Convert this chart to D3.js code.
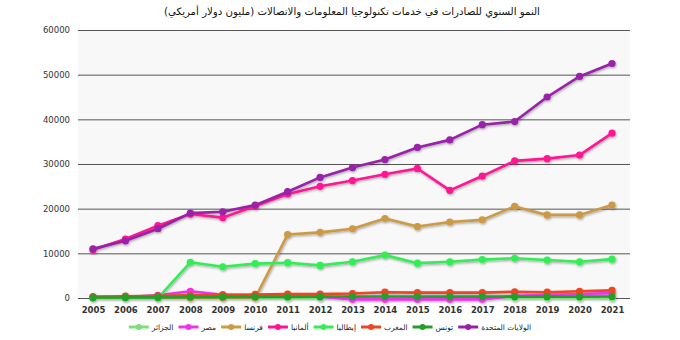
<!DOCTYPE html>
<html>
<head>
<meta charset="utf-8">
<script src="https://cdn.jsdelivr.net/npm/d3@7"></script>
<style>
  body { margin: 0; background: #fff; }
  svg text { font-family: "DejaVu Sans", "Noto Sans", sans-serif; }
</style>
</head>
<body>
<div id="chart"></div>
<script>
// السنوات
const years = [2005, 2006, 2007, 2008, 2009, 2010, 2011, 2012, 2013, 2014, 2015, 2016, 2017, 2018, 2019, 2020, 2021];
const yTicks = [0, 10000, 20000, 30000, 40000, 50000, 60000];

// القيم (مليون دولار) مقروءة من الصورة
const usa     = [11000, 12800, 15500, 19000, 19300, 20800, 23800, 27000, 29200, 31000, 33700, 35400, 38800, 39500, 45000, 49600, 52500];
const tunisia = [100, 120, 150, 200, 200, 250, 250, 300, 300, 350, 300, 300, 300, 300, 300, 300, 350];
const morocco = [300, 400, 500, 600, 700, 800, 900, 900, 1000, 1300, 1200, 1200, 1200, 1400, 1300, 1500, 1700];
const italy   = [0, 0, 0, 8000, 7000, 7700, 7900, 7300, 8100, 9600, 7800, 8100, 8600, 8900, 8500, 8100, 8700];
const germany = [10800, 13200, 16200, 18800, 18000, 20600, 23300, 25000, 26300, 27700, 29000, 24100, 27300, 30700, 31200, 32000, 36900];
const france  = [0, 0, 0, 0, 0, 0, 14200, 14700, 15500, 17800, 16000, 17000, 17500, 20500, 18600, 18600, 20800];
const egypt   = [100, 200, 600, 1500, 700, 500, 400, 300, -300, -300, -300, -300, -300, 500, 700, 900, 1100];
const algeria = [50, 50, 50, 50, 50, 50, 50, 50, 50, 50, 50, 50, 50, 50, 50, 50, 50];

const names  = ["الجزائر", "مصر", "فرنسا", "ألمانيا", "إيطاليا", "المغرب", "تونس", "الولايات المتحدة"];
const colors = ["#7ddf7d", "#ee33ee", "#cc9944", "#ff1493", "#33ee55", "#ee4422", "#22a02a", "#9920a8"];
const seriesValues = [algeria, egypt, france, germany, italy, morocco, tunisia, usa];

const title = "النمو السنوي للصادرات في خدمات تكنولوجيا المعلومات والاتصالات (مليون دولار أمريكي)";

const width = 680, height = 340;
const plotLeft = 78, plotRight = 630, plotTop = 30, plotBottom = 298;

const svg = d3.select("#chart").append("svg")
    .attr("width", width)
    .attr("height", height);

// ظل خفيف للخطوط
const defs = svg.append("defs");
const f = defs.append("filter").attr("id", "shadow")
    .attr("x", "-10%").attr("y", "-10%").attr("width", "120%").attr("height", "130%");
f.append("feDropShadow").attr("dx", 0.8).attr("dy", 1.2).attr("stdDeviation", 0.9)
    .attr("flood-color", "#000").attr("flood-opacity", 0.35);

const x = d3.scaleLinear().domain([2005, 2021]).range([93, 612]);
const y = d3.scaleLinear().domain([0, 60000]).range([plotBottom, plotTop]);

// خلفية منطقة الرسم
svg.append("rect")
    .attr("x", plotLeft).attr("y", plotTop)
    .attr("width", plotRight - plotLeft).attr("height", plotBottom - plotTop)
    .attr("fill", "#f8f8f8");

// العنوان
svg.append("text")
    .attr("x", 352).attr("y", 15)
    .attr("text-anchor", "middle")
    .attr("direction", "rtl")
    .attr("font-size", 10.2)
    .attr("fill", "#111")
    .text(title);

// خطوط الشبكة ومحور y
const yAxis = d3.axisLeft(y).tickValues(yTicks).tickFormat(d3.format("d"))
    .tickSize(-(plotRight - plotLeft)).tickPadding(8);
svg.append("g")
    .attr("transform", `translate(${plotLeft},0)`)
    .call(yAxis)
    .call(g => g.select(".domain").remove())
    .call(g => g.selectAll("line").attr("stroke", "#555").attr("stroke-width", 1))
    .call(g => g.selectAll("text").attr("font-size", 8.5).attr("fill", "#333"));

// محور x
const xAxis = d3.axisBottom(x).tickValues(years).tickFormat(d3.format("d")).tickSize(0).tickPadding(9);
svg.append("g")
    .attr("transform", `translate(0,${plotBottom})`)
    .call(xAxis)
    .call(g => g.select(".domain").remove())
    .call(g => g.selectAll("text").attr("font-size", 8.5).attr("font-weight", "bold").attr("fill", "#333"));

// الخطوط
const line = d3.line()
    .x((d, i) => x(years[i]))
    .y(d => y(d));

const gSeries = svg.append("g").attr("filter", "url(#shadow)");
seriesValues.forEach((vals, k) => {
    const g = gSeries.append("g");
    g.append("path")
        .attr("d", line(vals))
        .attr("fill", "none")
        .attr("stroke", colors[k])
        .attr("stroke-width", 2.6)
        .attr("stroke-linejoin", "round");
    g.selectAll("circle")
        .data(vals)
        .join("circle")
        .attr("cx", (d, i) => x(years[i]))
        .attr("cy", d => y(d))
        .attr("r", 3.6)
        .attr("fill", colors[k]);
});

// وسيلة الإيضاح
const legend = svg.append("g");
const lineLen = 20, gapText = 3, gapItem = 5;
let cx = 0;
names.forEach((n, k) => {
    const it = legend.append("g");
    it.append("line")
        .attr("x1", 0).attr("x2", lineLen)
        .attr("y1", 0).attr("y2", 0)
        .attr("stroke", colors[k]).attr("stroke-width", 3);
    it.append("circle").attr("cx", lineLen / 2).attr("cy", 0).attr("r", 3).attr("fill", colors[k]);
    const t = it.append("text")
        .attr("x", lineLen + gapText).attr("y", 3)
        .attr("font-size", 7.5)
        .attr("fill", "#222")
        .text(n);
    const w = t.node().getComputedTextLength();
    it.attr("transform", `translate(${cx},0)`);
    cx += lineLen + gapText + w + gapItem;
});
const total = cx - gapItem;
legend.attr("transform", `translate(${330 - total / 2},327)`);
</script>
</body>
</html>
